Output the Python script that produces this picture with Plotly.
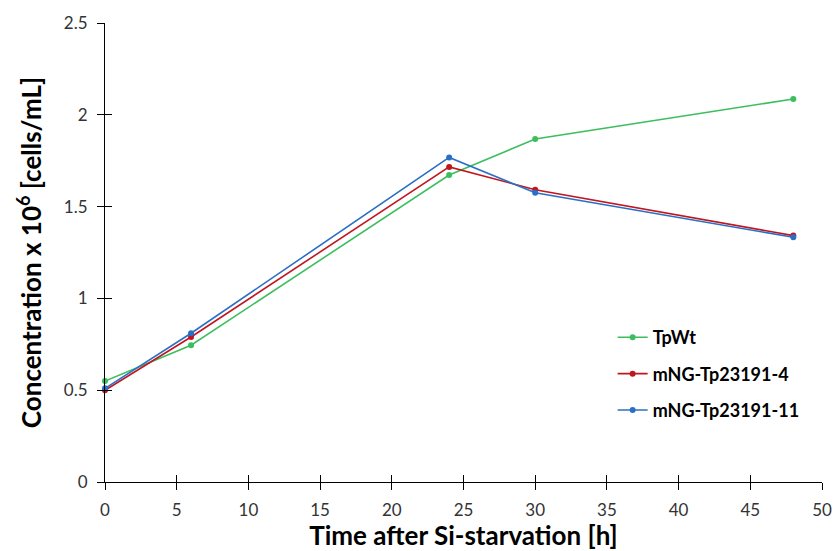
import plotly.graph_objects as go

# Sampling times (hours after Si-starvation)
hours = [0, 6, 24, 30, 48]

# Cell concentration (x 10^6 cells/mL) per strain
tpwt = [0.55, 0.745, 1.672, 1.868, 2.086]
mng_4 = [0.50, 0.79, 1.716, 1.592, 1.342]
mng_11 = [0.51, 0.81, 1.768, 1.575, 1.333]

series_names = ["TpWt", "mNG-Tp23191-4", "mNG-Tp23191-11"]
series_values = [tpwt, mng_4, mng_11]
series_colors = ["#3DBE5E", "#C0161F", "#2A6FC6"]

x_ticks = [0, 5, 10, 15, 20, 25, 30, 35, 40, 45, 50]
y_ticks = [0, 0.5, 1, 1.5, 2, 2.5]
y_tick_text = ["0", "0.5", "1", "1.5", "2", "2.5"]

fig = go.Figure()
for i, (name, vals, col) in enumerate(zip(series_names, series_values, series_colors)):
    fig.add_trace(go.Scatter(
        x=hours, y=vals, name=name, mode="lines+markers",
        line=dict(color=col, width=1.6),
        marker=dict(color=col, size=6),
        cliponaxis=False, legendgroup=f"g{i}",
    ))

tick_font = dict(family="Lato, Open Sans, sans-serif", size=17, color="#333333")
title_font = dict(family="Lato, Open Sans, sans-serif", size=26, color="#000000")

fig.update_layout(
    width=833, height=551,
    margin=dict(l=105, r=11, t=23, b=69, autoexpand=False),
    plot_bgcolor="white", paper_bgcolor="white",
    showlegend=True,
    legend=dict(
        x=0.708, y=0.355, xanchor="left", yanchor="top",
        font=dict(family="Lato, Open Sans, sans-serif", size=18, color="#000000", weight="bold"),
        traceorder="grouped", tracegroupgap=10, itemwidth=30,
        bgcolor="rgba(0,0,0,0)",
    ),
    xaxis=dict(
        range=[0, 50], tickvals=x_ticks, ticktext=[str(v) for v in x_ticks],
        showgrid=False, zeroline=False, showline=True, linecolor="#000000", linewidth=1.2,
        ticks="outside", ticklen=7, tickcolor="#000000", tickwidth=1.2,
        tickfont=tick_font, ticklabelstandoff=5,
        title=dict(text="<b>Time after Si-starvation [h]</b>", font=title_font, standoff=5),
    ),
    yaxis=dict(
        range=[0, 2.5], tickvals=y_ticks, ticktext=y_tick_text,
        showgrid=False, zeroline=False, showline=True, linecolor="#000000", linewidth=1.2,
        ticks="outside", ticklen=7, tickcolor="#000000", tickwidth=1.2,
        tickfont=tick_font, ticklabelstandoff=6,
        title=dict(text="<b>Concentration x 10<sup>6</sup> [cells/mL]</b>", font=title_font, standoff=14),
    ),
    # Mirror axes carrying inward ticks so the tick marks cross the axis lines
    xaxis2=dict(
        overlaying="x", matches="x", range=[0, 50], tickvals=x_ticks,
        showticklabels=False, showgrid=False, zeroline=False, showline=False,
        ticks="inside", ticklen=7, tickcolor="#000000", tickwidth=1.2,
        anchor="y", side="bottom",
    ),
    yaxis2=dict(
        overlaying="y", matches="y", range=[0, 2.5], tickvals=y_ticks,
        showticklabels=False, showgrid=False, zeroline=False, showline=False,
        ticks="inside", ticklen=7, tickcolor="#000000", tickwidth=1.2,
        anchor="x", side="left",
    ),
)

# Invisible trace that activates the mirror axes
fig.add_trace(go.Scatter(x=[None], y=[None], xaxis="x2", yaxis="y2",
                         showlegend=False, hoverinfo="skip"))

fig.write_html("out.html")
